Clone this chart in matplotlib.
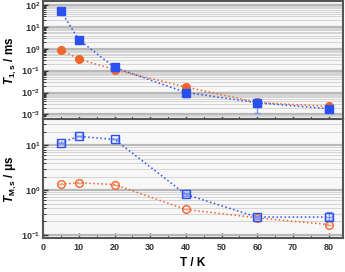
import matplotlib
matplotlib.use("Agg")
import matplotlib.pyplot as plt
import matplotlib.ticker as ticker
import numpy as np

plt.rcParams["font.family"] = ["Liberation Sans", "DejaVu Sans"]
plt.rcParams["mathtext.fontset"] = "custom"
plt.rcParams["mathtext.rm"] = "Liberation Sans:bold"
plt.rcParams["mathtext.it"] = "Liberation Sans:italic:bold"
plt.rcParams["mathtext.bf"] = "Liberation Sans:bold"

# ---------------------------------------------------------------------------
# Data
# ---------------------------------------------------------------------------
temps = [5, 10, 20, 40, 60, 80]

t1_blue = [52, 2.6, 0.14, 0.010, 0.0034, 0.0018]
t1_blue_lo = [0, 0, 0, 0.004, 0.0023, 0.0003]
t1_blue_hi = [0, 0, 0, 0.005, 0.0014, 0.0003]
t1_orange = [0.87, 0.34, 0.11, 0.018, 0.0035, 0.0023]

tm_blue = [11.5, 15.8, 13.6, 0.80, 0.25, 0.25]
tm_blue_lo = [0, 0, 0, 0.05, 0.02, 0.04]
tm_blue_hi = [0, 0, 0, 0.05, 0.02, 0.08]
tm_orange = [1.36, 1.46, 1.33, 0.37, 0.24, 0.17]

BLUE = "#2a50f0"
ORANGE = "#f2652a"
FRAME = "#555555"

fig = plt.figure(figsize=(3.45, 2.72), dpi=100)
ax1 = fig.add_axes([0.125, 0.561, 0.869, 0.435])
ax2 = fig.add_axes([0.125, 0.125, 0.869, 0.436], sharex=ax1)


def style_axis(ax):
    ax.set_yscale("log")
    ax.set_facecolor("#f7f7f7")
    ax.yaxis.grid(True, which="major", color="#b8b8b8", linewidth=1.6)
    ax.yaxis.grid(True, which="minor", color="#d4d4d4", linewidth=0.7)
    ax.set_axisbelow(True)
    for sp in ax.spines.values():
        sp.set_color(FRAME)
        sp.set_linewidth(1.5)
    ax.tick_params(which="both", direction="in", colors="#333333", labelsize=6.5)
    ax.tick_params(axis="y", pad=2)
    ax.tick_params(which="major", length=3.5, width=1)
    ax.tick_params(which="minor", length=2, width=0.7)
    ax.yaxis.set_minor_locator(ticker.LogLocator(base=10, subs=np.arange(2, 10), numticks=20))
    ax.yaxis.set_minor_formatter(ticker.NullFormatter())
    for lab in ax.get_yticklabels() + ax.get_xticklabels():
        lab.set_fontweight("bold")


# top panel
ax1.errorbar(temps, t1_blue, yerr=[t1_blue_lo, t1_blue_hi], xerr=0.9,
             fmt="s", color=BLUE, ms=5.5, ecolor="#7f94f0", elinewidth=1,
             capsize=2.5, zorder=4)
ax1.plot(temps, t1_blue, ":", color=BLUE, lw=1.1, zorder=3)
ax1.errorbar(temps, t1_orange, xerr=0.9, fmt="o", color=ORANGE, ms=5.5,
             ecolor="#f5a07a", elinewidth=1, zorder=3)
ax1.plot(temps, t1_orange, ":", color=ORANGE, lw=1.1, zorder=2)
ax1.set_ylim(10 ** -3.23, 10 ** 2.18)
style_axis(ax1)
ax1.set_ylabel(r"$\mathit{T}_{\mathbf{1,s}}$ / ms", fontsize=8.5, fontweight="bold")
ax1.yaxis.set_label_coords(-0.082, 0.5)
plt.setp(ax1.get_xticklabels(), visible=False)

# bottom panel
ax2.errorbar(temps, tm_blue, yerr=[tm_blue_lo, tm_blue_hi], xerr=0.9,
             fmt="s", mfc="none", mec=BLUE, color=BLUE, ms=5.5, mew=1,
             ecolor="#7f94f0", elinewidth=1, capsize=2.5, zorder=4)
ax2.plot(temps, tm_blue, ":", color=BLUE, lw=1.1, zorder=3)
ax2.errorbar(temps, tm_orange, xerr=0.9, fmt="o", mfc="none", mec=ORANGE,
             color=ORANGE, ms=5.5, mew=1, ecolor="#f5a07a", elinewidth=1, zorder=3)
ax2.plot(temps, tm_orange, ":", color=ORANGE, lw=1.1, zorder=2)
ax2.set_ylim(10 ** -1.07, 10 ** 1.58)
style_axis(ax2)
ax2.set_ylabel(r"$\mathit{T}_{\mathbf{M,s}}$ / μs", fontsize=8.5, fontweight="bold")
ax2.yaxis.set_label_coords(-0.082, 0.5)

ax2.set_xlim(0, 84)
ax2.xaxis.set_major_locator(ticker.MultipleLocator(10))
ax2.xaxis.set_minor_locator(ticker.MultipleLocator(5))
ax2.set_xlabel("T / K", fontsize=8.5, fontweight="bold")
ax2.xaxis.set_label_coords(0.5, -0.16)
for lab in ax2.get_xticklabels():
    lab.set_fontweight("bold")

fig.savefig("out.png", dpi=100)
